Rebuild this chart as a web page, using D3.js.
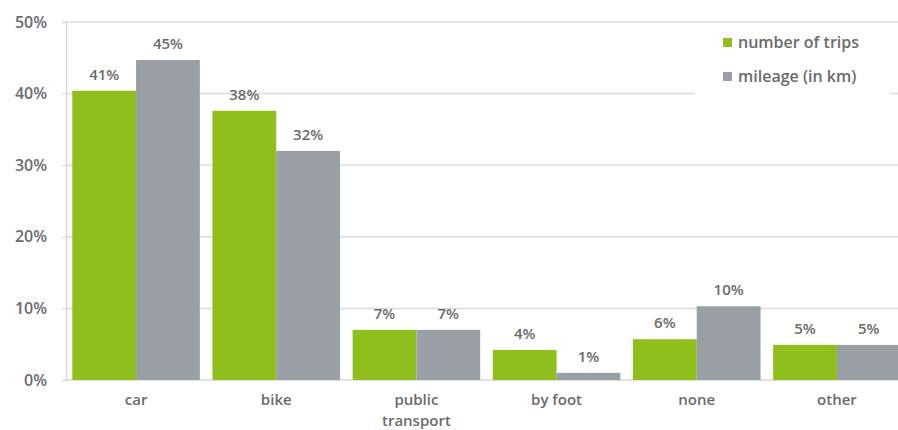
<!DOCTYPE html>
<html>
<head>
<meta charset="utf-8">
<script src="https://cdn.jsdelivr.net/npm/d3@7"></script>
<style>
  body { margin: 0; background: #fff; }
  svg text { font-family: "Open Sans", "DejaVu Sans", sans-serif; font-weight: 600; fill: #6b6b6b; }
</style>
</head>
<body>
<div class="view"></div>
<script>
// categories and series (share in %)
const categories = ["car", "bike", "public transport", "by foot", "none", "other"];
const seriesNames = ["number of trips", "mileage (in km)"];
const trips = [40.4, 37.6, 7.0, 4.2, 5.7, 4.9];
const mileage = [44.7, 32.0, 7.0, 1.0, 10.3, 4.9];
const tripLabels = ["41%", "38%", "7%", "4%", "6%", "5%"];
const mileageLabels = ["45%", "32%", "7%", "1%", "10%", "5%"];
const yTicks = [0, 10, 20, 30, 40, 50];

const colors = ["#8fbf1c", "#9a9fa5"];

// Margins
const margin = {top: 22, right: -9, bottom: 50, left: 66};
const W = 898, H = 430;
const width = W - margin.left - margin.right;
const height = H - margin.top - margin.bottom;

let svg = d3.select(".view").append("svg")
    .attr("width", W)
    .attr("height", H);

let g = svg.append("g")
    .attr("transform", "translate(" + margin.left + "," + margin.top + ")");

let x = d3.scaleBand()
    .domain(categories)
    .range([0, width])
    .paddingInner(0.09)
    .paddingOuter(0.045);

let xSub = d3.scaleBand()
    .domain([0, 1])
    .range([0, x.bandwidth()]);

let y = d3.scaleLinear()
    .domain([0, 50])
    .range([height, 0]);

// grid lines
g.append("g")
    .selectAll("line")
    .data(yTicks.slice(1))
    .enter().append("line")
    .attr("x1", 0)
    .attr("x2", width)
    .attr("y1", d => y(d))
    .attr("y2", d => y(d))
    .attr("stroke", "#dcdcdc")
    .attr("stroke-width", 1.5);

// y axis
let yAxis = g.append("g")
    .call(d3.axisLeft(y).tickValues(yTicks).tickFormat(d => d + "%").tickSize(4).tickPadding(15));
yAxis.select(".domain").attr("stroke", "#d8d8d8").attr("stroke-width", 1.5);
yAxis.selectAll(".tick line").attr("stroke", "#d8d8d8");
yAxis.selectAll("text").style("font-size", "16px").attr("fill", "#6b6b6b");

// baseline
g.append("line")
    .attr("x1", 0).attr("x2", width)
    .attr("y1", y(0)).attr("y2", y(0))
    .attr("stroke", "#d8d8d8").attr("stroke-width", 1.5);

// bars
const series = [trips, mileage];
const labels = [tripLabels, mileageLabels];

series.forEach((vals, s) => {
    let grp = g.append("g");
    grp.selectAll("rect")
        .data(vals)
        .enter().append("rect")
        .attr("x", (d, i) => x(categories[i]) + xSub(s))
        .attr("y", d => y(d))
        .attr("width", xSub.bandwidth())
        .attr("height", d => y(0) - y(d))
        .attr("fill", colors[s]);

    grp.selectAll("text")
        .data(vals)
        .enter().append("text")
        .attr("x", (d, i) => x(categories[i]) + xSub(s) + xSub.bandwidth() / 2)
        .attr("y", d => y(d) - 11)
        .attr("text-anchor", "middle")
        .style("font-size", "15px")
        .text((d, i) => labels[s][i]);
});

// x labels (wrap "public transport")
let xl = g.append("g");
categories.forEach(c => {
    let parts = c === "public transport" ? ["public", "transport"] : [c];
    let t = xl.append("text")
        .attr("x", x(c) + x.bandwidth() / 2)
        .attr("y", height + 25)
        .attr("text-anchor", "middle")
        .style("font-size", "15px");
    parts.forEach((p, k) => {
        t.append("tspan")
            .attr("x", x(c) + x.bandwidth() / 2)
            .attr("dy", k === 0 ? 0 : 21)
            .text(p);
    });
});

// legend
let legend = svg.append("g").attr("transform", "translate(695,26)");
legend.append("rect")
    .attr("width", 195).attr("height", 70)
    .attr("fill", "#fff");
seriesNames.forEach((n, i) => {
    let row = legend.append("g").attr("transform", "translate(28," + (16 + i * 34) + ")");
    row.append("rect")
        .attr("x", 0).attr("y", -4)
        .attr("width", 9).attr("height", 9)
        .attr("fill", colors[i]);
    row.append("text")
        .attr("x", 15).attr("y", 0)
        .attr("dy", "0.35em")
        .style("font-size", "16px")
        .text(n);
});
</script>
</body>
</html>
